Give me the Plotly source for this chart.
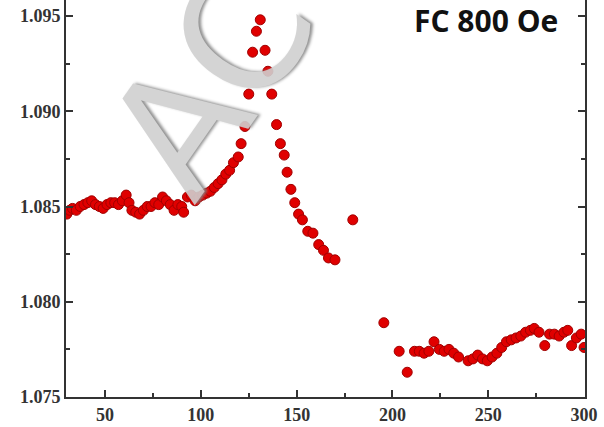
import plotly.graph_objects as go

# Temperature (K) and normalized magnetization (FC 800 Oe)
temperature = [
    30, 31.5, 33, 35, 37, 39, 41, 43, 45, 47, 49, 51, 53, 55, 57, 59, 61, 62.5, 64, 66,
    68, 70, 72, 74, 76, 78, 80, 82, 84, 86, 88, 90, 91, 93, 95, 97, 99, 101, 103, 105,
    107, 109, 111, 113, 115, 117, 119.5, 121, 123, 125, 127, 129, 131, 133.5, 135, 137,
    139.5, 141.5, 143.5, 145, 147, 149, 151, 153, 155.8, 158.5, 161.5, 164, 166.6, 170,
    179.3, 195.5, 203.5, 207.7, 211.5, 214, 216.5, 219, 221.7, 224.5, 227, 229.5, 232,
    234.5, 239.5, 242, 244.5, 247, 249.5, 252, 254.5, 257, 259.5, 262, 264.5, 267, 269.5,
    272, 274, 276.5, 279.5, 282, 284.5, 287, 289.5, 291.5, 293.5, 296, 298.5, 300,
]
magnetization = [
    1.0846, 1.0848, 1.0849, 1.0848, 1.0850, 1.0851, 1.0852, 1.0853, 1.0851, 1.0850,
    1.0849, 1.0851, 1.0852, 1.0852, 1.0851, 1.0853, 1.0856, 1.0852, 1.0848, 1.0847,
    1.0846, 1.0848, 1.0850, 1.0850, 1.0852, 1.0851, 1.0855, 1.0853, 1.0851, 1.0848,
    1.0851, 1.0850, 1.0847, 1.0855, 1.0856, 1.0853, 1.0855, 1.0856, 1.0857, 1.0858,
    1.0860, 1.0862, 1.0864, 1.0867, 1.0869, 1.0873, 1.0876, 1.0883, 1.0892, 1.0909,
    1.0931, 1.0942, 1.0948, 1.0932, 1.0921, 1.0909, 1.0893, 1.0883, 1.0877, 1.0868,
    1.0859, 1.0852, 1.0846, 1.0843, 1.0837, 1.0836, 1.0830, 1.0827, 1.0823, 1.0822,
    1.0843, 1.0789, 1.0774, 1.0763, 1.0774, 1.0774, 1.0773, 1.0774, 1.0779, 1.0775,
    1.0774, 1.0775, 1.0773, 1.0771, 1.0769, 1.0770, 1.0772, 1.0770, 1.0769, 1.0771,
    1.0773, 1.0776, 1.0779, 1.0780, 1.0781, 1.0782, 1.0784, 1.0785, 1.0786, 1.0784,
    1.0777, 1.0783, 1.0783, 1.0782, 1.0784, 1.0785, 1.0777, 1.0781, 1.0783, 1.0776,
]

x_ticks = [50, 100, 150, 200, 250, 300]
y_ticks = [1.075, 1.080, 1.085, 1.090, 1.095]
y_tick_labels = ["1.075", "1.080", "1.085", "1.090", "1.095"]
label_text = "FC 800 Oe"
watermark_text = "ACC"

fig = go.Figure()
fig.add_trace(go.Scatter(
    x=temperature, y=magnetization, mode="markers",
    marker=dict(size=10, color="#e00000", line=dict(color="#a00000", width=1)),
    showlegend=False,
))

tickfont = dict(family="Liberation Serif", size=18, color="#333333", weight="bold")
fig.update_layout(
    width=604, height=427,
    margin=dict(l=66, r=19, t=0, b=30),
    paper_bgcolor="white", plot_bgcolor="white",
    xaxis=dict(
        range=[29.6, 300.5], tickvals=x_ticks, ticks="inside", ticklen=7, tickwidth=1.5,
        tickcolor="#333333", showline=True, linecolor="#333333", linewidth=2,
        showgrid=False, zeroline=False, tickfont=tickfont,
        minor=dict(dtick=25, tick0=25, ticks="inside", ticklen=4, tickcolor="#333333", showgrid=False),
    ),
    yaxis=dict(
        range=[1.075, 1.09584], tickvals=y_ticks, ticktext=y_tick_labels, ticks="inside",
        ticklen=7, tickwidth=1.5, tickcolor="#333333", showline=True, linecolor="#333333",
        linewidth=2, mirror="ticks", showgrid=False, zeroline=False, tickfont=tickfont,
        minor=dict(dtick=0.0025, tick0=1.075, ticks="inside", ticklen=4, tickcolor="#333333", showgrid=False),
    ),
)

fig.add_annotation(
    text=watermark_text, xref="paper", yref="paper", x=0.345, y=1.41,
    xanchor="center", yanchor="top",
    showarrow=False, textangle=-55,
    font=dict(family="DejaVu Sans", size=165, color="#d0d0d0",
              shadow="2px 2px 3px #888888"),
    opacity=0.9,
)
fig.add_annotation(
    text=label_text, xref="paper", yref="paper", x=0.952, y=0.948,
    xanchor="right", yanchor="middle", showarrow=False,
    font=dict(family="Open Sans", size=30, color="#111111", weight="bold"),
)

fig.write_html(
    "out.html",
    config={"displayModeBar": False},
    post_script="document.body.style.margin='0';document.body.style.overflow='hidden';",
)
